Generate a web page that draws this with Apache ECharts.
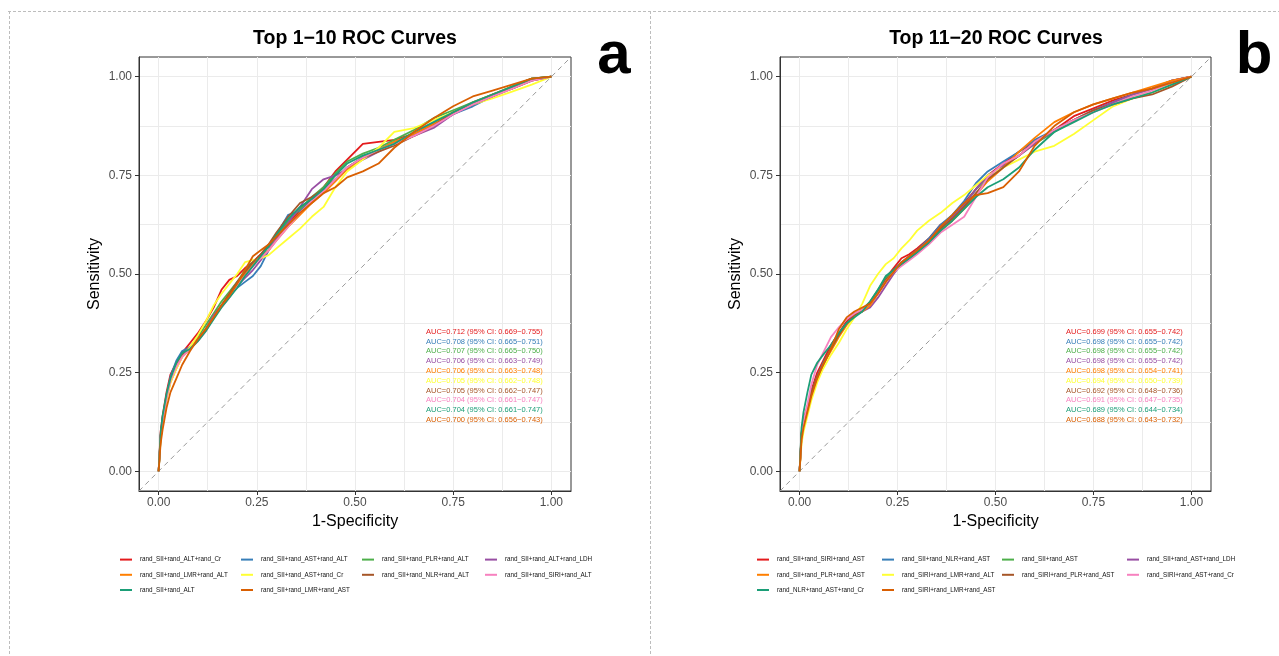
<!DOCTYPE html>
<html><head><meta charset="utf-8">
<script src="https://cdn.jsdelivr.net/npm/echarts@6/dist/echarts.min.js"></script>
<style>html,body{margin:0;padding:0;background:#fff}#c{width:1279px;height:656px}</style>
</head><body><div id="c"></div>
<script>
// ---------- data ----------
const fpr = [0, 0.005, 0.01, 0.02, 0.03, 0.045, 0.06, 0.08, 0.10, 0.12, 0.14, 0.16, 0.18, 0.20, 0.22, 0.24, 0.26, 0.28, 0.30, 0.33, 0.36, 0.39, 0.42, 0.45, 0.48, 0.52, 0.56, 0.60, 0.65, 0.70, 0.75, 0.80, 0.85, 0.90, 0.95, 1.0];
const tickVals = [0, 0.25, 0.5, 0.75, 1];
const gridVals = [0, 0.125, 0.25, 0.375, 0.5, 0.625, 0.75, 0.875, 1];
const axisRange = [-0.05, 1.05];
const colors = ['#E41A1C', '#377EB8', '#4DAF4A', '#984EA3', '#FF7F00', '#FFFF33', '#A65628', '#F781BF', '#1B9E77', '#D95F02'];

const namesLeft = ['rand_SII+rand_ALT+rand_Cr', 'rand_SII+rand_AST+rand_ALT', 'rand_SII+rand_PLR+rand_ALT', 'rand_SII+rand_ALT+rand_LDH', 'rand_SII+rand_LMR+rand_ALT', 'rand_SII+rand_AST+rand_Cr', 'rand_SII+rand_NLR+rand_ALT', 'rand_SII+rand_SIRI+rand_ALT', 'rand_SII+rand_ALT', 'rand_SII+rand_LMR+rand_AST'];
const namesRight = ['rand_SII+rand_SIRI+rand_AST', 'rand_SII+rand_NLR+rand_AST', 'rand_SII+rand_AST', 'rand_SII+rand_AST+rand_LDH', 'rand_SII+rand_PLR+rand_AST', 'rand_SIRI+rand_LMR+rand_ALT', 'rand_SIRI+rand_PLR+rand_AST', 'rand_SIRI+rand_AST+rand_Cr', 'rand_NLR+rand_AST+rand_Cr', 'rand_SIRI+rand_LMR+rand_AST'];

const aucLeft = [0.712, 0.708, 0.707, 0.706, 0.706, 0.705, 0.705, 0.704, 0.704, 0.700];
const ciLowLeft = [0.669, 0.665, 0.665, 0.663, 0.663, 0.662, 0.662, 0.661, 0.661, 0.656];
const ciHighLeft = [0.755, 0.751, 0.750, 0.749, 0.748, 0.748, 0.747, 0.747, 0.747, 0.743];
const aucRight = [0.699, 0.698, 0.698, 0.698, 0.698, 0.694, 0.692, 0.691, 0.689, 0.688];
const ciLowRight = [0.655, 0.655, 0.655, 0.655, 0.654, 0.650, 0.648, 0.647, 0.644, 0.643];
const ciHighRight = [0.742, 0.742, 0.742, 0.742, 0.741, 0.739, 0.736, 0.735, 0.734, 0.732];

// sensitivity at each fpr value - Top 1-10
const L_red    = [0, 0.10, 0.14, 0.20, 0.245, 0.275, 0.30, 0.325, 0.35, 0.38, 0.415, 0.46, 0.485, 0.495, 0.515, 0.53, 0.55, 0.57, 0.595, 0.63, 0.66, 0.69, 0.72, 0.76, 0.79, 0.83, 0.835, 0.84, 0.855, 0.882, 0.905, 0.93, 0.95, 0.975, 0.993, 1];
const L_blue   = [0, 0.085, 0.13, 0.19, 0.24, 0.28, 0.305, 0.315, 0.335, 0.36, 0.395, 0.42, 0.445, 0.465, 0.48, 0.495, 0.52, 0.56, 0.60, 0.65, 0.66, 0.685, 0.71, 0.74, 0.77, 0.795, 0.815, 0.835, 0.85, 0.875, 0.905, 0.925, 0.95, 0.975, 0.995, 1];
const L_green  = [0, 0.08, 0.12, 0.185, 0.23, 0.27, 0.295, 0.315, 0.34, 0.37, 0.40, 0.43, 0.455, 0.48, 0.51, 0.53, 0.545, 0.57, 0.595, 0.635, 0.665, 0.695, 0.72, 0.755, 0.785, 0.805, 0.82, 0.84, 0.865, 0.895, 0.915, 0.935, 0.955, 0.975, 0.995, 1];
const L_purple = [0, 0.09, 0.13, 0.19, 0.235, 0.27, 0.295, 0.315, 0.335, 0.36, 0.395, 0.42, 0.445, 0.47, 0.49, 0.51, 0.535, 0.56, 0.59, 0.63, 0.67, 0.715, 0.74, 0.75, 0.765, 0.79, 0.81, 0.83, 0.85, 0.87, 0.905, 0.93, 0.955, 0.97, 0.99, 1];
const L_orange = [0, 0.085, 0.125, 0.185, 0.225, 0.26, 0.29, 0.31, 0.335, 0.36, 0.39, 0.42, 0.45, 0.475, 0.50, 0.525, 0.545, 0.56, 0.585, 0.62, 0.65, 0.68, 0.705, 0.735, 0.765, 0.795, 0.815, 0.835, 0.855, 0.88, 0.91, 0.935, 0.955, 0.975, 0.995, 1];
const L_yellow = [0, 0.08, 0.12, 0.18, 0.225, 0.26, 0.29, 0.315, 0.345, 0.38, 0.42, 0.45, 0.475, 0.50, 0.53, 0.535, 0.54, 0.548, 0.565, 0.59, 0.615, 0.645, 0.67, 0.72, 0.76, 0.79, 0.82, 0.86, 0.87, 0.89, 0.91, 0.93, 0.945, 0.962, 0.98, 1];
const L_brown  = [0, 0.09, 0.135, 0.19, 0.235, 0.27, 0.295, 0.31, 0.33, 0.36, 0.39, 0.42, 0.45, 0.48, 0.505, 0.53, 0.55, 0.575, 0.605, 0.645, 0.68, 0.695, 0.715, 0.74, 0.77, 0.795, 0.81, 0.825, 0.85, 0.875, 0.91, 0.93, 0.95, 0.97, 0.99, 1];
const L_pink   = [0, 0.085, 0.125, 0.185, 0.23, 0.265, 0.29, 0.31, 0.33, 0.355, 0.39, 0.415, 0.44, 0.47, 0.495, 0.52, 0.54, 0.56, 0.585, 0.62, 0.655, 0.685, 0.71, 0.74, 0.77, 0.795, 0.815, 0.83, 0.85, 0.875, 0.905, 0.93, 0.95, 0.97, 0.99, 1];
const L_teal   = [0, 0.095, 0.14, 0.195, 0.235, 0.275, 0.30, 0.31, 0.33, 0.355, 0.385, 0.415, 0.44, 0.465, 0.495, 0.52, 0.545, 0.57, 0.60, 0.64, 0.67, 0.69, 0.715, 0.75, 0.78, 0.80, 0.815, 0.83, 0.86, 0.885, 0.91, 0.935, 0.955, 0.975, 0.995, 1];
const L_dkorange = [0, 0.07, 0.105, 0.16, 0.20, 0.235, 0.27, 0.305, 0.335, 0.36, 0.39, 0.42, 0.445, 0.475, 0.51, 0.545, 0.56, 0.575, 0.595, 0.625, 0.655, 0.68, 0.705, 0.72, 0.745, 0.76, 0.78, 0.82, 0.86, 0.895, 0.925, 0.95, 0.965, 0.98, 0.995, 1];

// sensitivity at each fpr value - Top 11-20
const R_red    = [0, 0.10, 0.13, 0.165, 0.205, 0.25, 0.28, 0.32, 0.35, 0.38, 0.40, 0.41, 0.425, 0.455, 0.49, 0.515, 0.54, 0.55, 0.565, 0.59, 0.625, 0.645, 0.68, 0.715, 0.75, 0.78, 0.81, 0.835, 0.865, 0.90, 0.92, 0.94, 0.955, 0.97, 0.99, 1];
const R_blue   = [0, 0.09, 0.12, 0.16, 0.20, 0.24, 0.275, 0.31, 0.345, 0.375, 0.395, 0.405, 0.425, 0.455, 0.485, 0.51, 0.53, 0.545, 0.56, 0.59, 0.625, 0.65, 0.685, 0.73, 0.76, 0.785, 0.81, 0.84, 0.865, 0.89, 0.915, 0.935, 0.955, 0.97, 0.99, 1];
const R_green  = [0, 0.095, 0.125, 0.16, 0.195, 0.24, 0.27, 0.31, 0.345, 0.375, 0.395, 0.41, 0.43, 0.46, 0.49, 0.51, 0.525, 0.54, 0.555, 0.585, 0.615, 0.645, 0.675, 0.715, 0.745, 0.775, 0.80, 0.83, 0.86, 0.89, 0.915, 0.935, 0.955, 0.97, 0.985, 1];
const R_purple = [0, 0.09, 0.12, 0.155, 0.195, 0.24, 0.27, 0.31, 0.345, 0.375, 0.395, 0.405, 0.415, 0.44, 0.47, 0.50, 0.525, 0.545, 0.56, 0.585, 0.62, 0.645, 0.675, 0.715, 0.75, 0.775, 0.80, 0.83, 0.865, 0.89, 0.915, 0.935, 0.955, 0.97, 0.99, 1];
const R_orange = [0, 0.09, 0.12, 0.155, 0.195, 0.235, 0.27, 0.305, 0.34, 0.37, 0.395, 0.405, 0.42, 0.45, 0.48, 0.505, 0.525, 0.54, 0.555, 0.58, 0.61, 0.635, 0.665, 0.70, 0.735, 0.77, 0.81, 0.845, 0.885, 0.91, 0.93, 0.945, 0.96, 0.975, 0.99, 1];
const R_yellow = [0, 0.07, 0.10, 0.14, 0.18, 0.225, 0.26, 0.295, 0.325, 0.36, 0.39, 0.425, 0.47, 0.50, 0.525, 0.54, 0.565, 0.585, 0.61, 0.635, 0.655, 0.68, 0.70, 0.725, 0.75, 0.77, 0.79, 0.81, 0.825, 0.855, 0.89, 0.925, 0.945, 0.96, 0.98, 1];
const R_brown  = [0, 0.095, 0.125, 0.16, 0.2, 0.24, 0.27, 0.31, 0.345, 0.375, 0.395, 0.41, 0.425, 0.455, 0.485, 0.505, 0.525, 0.54, 0.555, 0.58, 0.615, 0.64, 0.67, 0.705, 0.74, 0.77, 0.80, 0.835, 0.865, 0.89, 0.915, 0.93, 0.945, 0.955, 0.975, 1];
const R_pink   = [0, 0.09, 0.125, 0.17, 0.22, 0.27, 0.30, 0.34, 0.365, 0.385, 0.40, 0.41, 0.425, 0.45, 0.48, 0.505, 0.52, 0.535, 0.55, 0.575, 0.605, 0.625, 0.645, 0.695, 0.745, 0.78, 0.80, 0.835, 0.865, 0.89, 0.91, 0.93, 0.95, 0.965, 0.985, 1];
const R_teal   = [0, 0.11, 0.15, 0.2, 0.245, 0.275, 0.295, 0.32, 0.35, 0.375, 0.39, 0.405, 0.43, 0.46, 0.495, 0.51, 0.525, 0.54, 0.555, 0.58, 0.61, 0.635, 0.665, 0.695, 0.72, 0.74, 0.77, 0.815, 0.86, 0.885, 0.91, 0.93, 0.945, 0.96, 0.98, 1];
const R_dkorange = [0, 0.08, 0.11, 0.15, 0.19, 0.235, 0.27, 0.31, 0.36, 0.39, 0.405, 0.415, 0.425, 0.45, 0.48, 0.505, 0.53, 0.545, 0.56, 0.585, 0.62, 0.65, 0.68, 0.70, 0.705, 0.72, 0.76, 0.825, 0.875, 0.91, 0.93, 0.945, 0.96, 0.97, 0.985, 1];

const tprLeft = [L_red, L_blue, L_green, L_purple, L_orange, L_yellow, L_brown, L_pink, L_teal, L_dkorange];
const tprRight = [R_red, R_blue, R_green, R_purple, R_orange, R_yellow, R_brown, R_pink, R_teal, R_dkorange];

// ---------- layout ----------
const FONT = '"Liberation Sans", Arial, Helvetica, sans-serif';
const panels = [
  { grid: { left: 139, top: 57, width: 432, height: 434 }, title: 'Top 1\u221210 ROC Curves', titleX: 355, letter: 'a', letterX: 614,
    aucX: 426, legendX: [120, 241, 362, 485], names: namesLeft, tpr: tprLeft, auc: aucLeft, lo: ciLowLeft, hi: ciHighLeft },
  { grid: { left: 780, top: 57, width: 431, height: 434 }, title: 'Top 11\u221220 ROC Curves', titleX: 996, letter: 'b', letterX: 1254,
    aucX: 1066, legendX: [757, 882, 1002, 1127], names: namesRight, tpr: tprRight, auc: aucRight, lo: ciLowRight, hi: ciHighRight }
];
const legendCols = [[0, 4, 8], [1, 5, 9], [2, 6], [3, 7]];

const option = {
  animation: false,
  backgroundColor: '#fff',
  textStyle: { fontFamily: FONT },
  title: [], grid: [], xAxis: [], yAxis: [], series: [], legend: [], graphic: []
};

function axisCommon(name, isX) {
  return {
    type: 'value', min: axisRange[0], max: axisRange[1],
    name: name, nameLocation: 'middle', nameGap: isX ? 21 : 36,
    nameTextStyle: { fontSize: 16, color: '#000', fontFamily: FONT },
    axisLine: { show: true, onZero: false, lineStyle: { color: '#333', width: 1 } },
    axisTick: { show: true, length: 4, customValues: tickVals, lineStyle: { color: '#333', width: 1 } },
    axisLabel: { customValues: tickVals, formatter: v => v.toFixed(2), color: '#4D4D4D', fontSize: 12, margin: isX ? 6 : 7, fontFamily: FONT },
    splitLine: { show: false }, minorTick: { show: false }, minorSplitLine: { show: false }
  };
}
// hidden axis that only carries the background grid lines
function gridAxis(pi, isX) {
  return {
    type: 'value', gridIndex: pi, min: axisRange[0], max: axisRange[1], position: isX ? 'top' : 'right',
    axisLine: { show: false, onZero: false }, axisLabel: { show: false, customValues: gridVals },
    axisTick: { show: false, customValues: gridVals },
    splitLine: { show: true, lineStyle: { color: '#EBEBEB', width: 1 } },
    minorTick: { show: false }, minorSplitLine: { show: false }, z: 0
  };
}

panels.forEach((p, pi) => {
  option.title.push({ text: p.title, left: p.titleX, top: 29, textAlign: 'center', padding: 0,
    textStyle: { fontSize: 19.5, fontWeight: 'bold', color: '#000', fontFamily: FONT } });
  option.grid.push(Object.assign({ show: true, borderColor: '#333', borderWidth: 1, backgroundColor: '#fff', containLabel: false }, p.grid));
  option.xAxis.push(Object.assign({ gridIndex: pi }, axisCommon('1-Specificity', true)));
  option.yAxis.push(Object.assign({ gridIndex: pi }, axisCommon('Sensitivity', false)));
});
panels.forEach((p, pi) => {
  option.xAxis.push(gridAxis(pi, true));
  option.yAxis.push(gridAxis(pi, false));
});

panels.forEach((p, pi) => {
  // anchor series for the hidden grid-line axes (invisible)
  option.series.push({
    type: 'line', name: '_g' + pi, xAxisIndex: 2 + pi, yAxisIndex: 2 + pi, silent: true, z: 0,
    data: [[axisRange[0], axisRange[0]]], showSymbol: false, lineStyle: { opacity: 0 }
  });
  // diagonal reference line
  option.series.push({
    type: 'line', name: '_diag' + pi, xAxisIndex: pi, yAxisIndex: pi, z: 2, silent: true,
    data: [[axisRange[0], axisRange[0]], [axisRange[1], axisRange[1]]], showSymbol: false,
    lineStyle: { color: '#999', width: 1, type: [5, 4] }
  });
  // ROC curves
  p.tpr.forEach((arr, i) => {
    option.series.push({
      type: 'line', name: p.names[i], xAxisIndex: pi, yAxisIndex: pi, z: 10 + i,
      color: colors[i], showSymbol: false, symbol: 'none', clip: true,
      lineStyle: { color: colors[i], width: 1.8 },
      emphasis: { disabled: true },
      data: fpr.map((x, k) => [x, arr[k]])
    });
  });
  // legends, one per column
  legendCols.forEach((col, ci) => {
    option.legend.push({
      orient: 'vertical', left: p.legendX[ci], top: 552, padding: 0, itemGap: 0,
      itemWidth: 12, itemHeight: 2, icon: 'rect', selectedMode: false,
      data: col.map(i => p.names[i]),
      textStyle: { fontSize: 6.3, lineHeight: 15.2, color: '#111', padding: [0, 0, 0, 3], fontFamily: FONT }
    });
  });
  // AUC annotations
  p.auc.forEach((a, i) => {
    option.graphic.push({
      type: 'text', x: p.aucX, y: 331.7 + i * 9.8, silent: true, z: 50,
      style: { text: 'AUC=' + a.toFixed(3) + ' (95% CI: ' + p.lo[i].toFixed(3) + '\u2212' + p.hi[i].toFixed(3) + ')',
        fill: colors[i], fontSize: 7.5, fontFamily: FONT, align: 'left', verticalAlign: 'middle' }
    });
  });
  // panel letter
  option.graphic.push({
    type: 'text', x: p.letterX, y: 56, silent: true, z: 50,
    style: { text: p.letter, fill: '#000', fontSize: 60, fontWeight: 'bold', fontFamily: FONT, align: 'center', verticalAlign: 'middle' }
  });
});

// dashed frame lines
const dash = { stroke: '#BDBDBD', lineWidth: 1, lineDash: [3, 2] };
option.graphic.push(
  { type: 'line', shape: { x1: 8, y1: 11.5, x2: 1279, y2: 11.5 }, style: dash, silent: true },
  { type: 'line', shape: { x1: 9.5, y1: 11, x2: 9.5, y2: 656 }, style: dash, silent: true },
  { type: 'line', shape: { x1: 650.5, y1: 11, x2: 650.5, y2: 656 }, style: dash, silent: true }
);

const chart = echarts.init(document.getElementById('c'), null, { renderer: 'canvas' });
chart.setOption(option);
</script></body></html>
